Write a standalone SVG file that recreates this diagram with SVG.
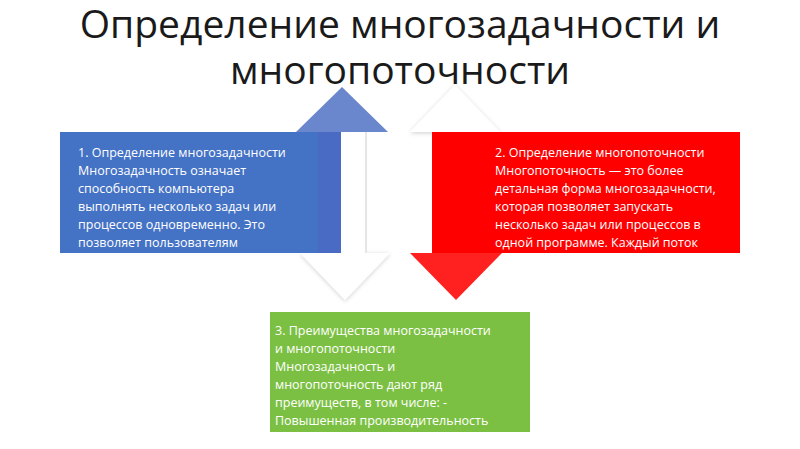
<svg xmlns="http://www.w3.org/2000/svg" width="800" height="449" viewBox="0 0 800 449">
<defs>
<style>
.t{font-family:"Open Sans","Noto Sans",sans-serif;font-size:12.5px;fill:#fff}
.h{font-family:"Open Sans","Noto Sans",sans-serif;font-size:39px;fill:#1a1a1a;text-anchor:middle}
</style>
<filter id="sh" x="-20%" y="-20%" width="140%" height="140%"><feDropShadow dx="0" dy="1" stdDeviation="2" flood-color="#000" flood-opacity="0.2"/></filter>
</defs>
<rect width="800" height="449" fill="#fff"/>
<text class="h" x="400" y="38">Определение многозадачности и</text>
<text class="h" x="400" y="84">многопоточности</text>
<g id="connectors">
<polygon points="300,253 390,253 345,300" fill="#fff" filter="url(#sh)"/>
<polygon points="410,132 500,132 455,85" fill="#fff" filter="url(#sh)"/>
<polygon points="296,132 388,132 342,87" fill="#6a86cc"/>
<rect x="317" y="132" width="50" height="121" fill="#fff"/>
<line x1="366" y1="132" x2="366" y2="253" stroke="#ccc"/>
<rect x="317" y="132" width="24" height="121" fill="#4a6bc4"/>
<polygon points="410,253 502,253 456,300" fill="#ff2020"/>
<rect x="432" y="132" width="48" height="121" fill="#ff0000"/>
</g>
<g id="n1">
<rect x="60" y="132" width="258" height="121" fill="#4472c4"/>
<text class="t"><tspan x="78" y="157">1. Определение многозадачности</tspan><tspan x="78" y="175">Многозадачность означает</tspan><tspan x="78" y="193">способность компьютера</tspan><tspan x="78" y="211">выполнять несколько задач или</tspan><tspan x="78" y="229">процессов одновременно. Это</tspan><tspan x="78" y="247">позволяет пользователям</tspan></text>
</g>
<g id="n2">
<rect x="480" y="132" width="260" height="121" fill="#ff0000"/>
<text class="t"><tspan x="495" y="157">2. Определение многопоточности</tspan><tspan x="495" y="175">Многопоточность — это более</tspan><tspan x="495" y="193">детальная форма многозадачности,</tspan><tspan x="495" y="211">которая позволяет запускать</tspan><tspan x="495" y="229">несколько задач или процессов в</tspan><tspan x="495" y="247">одной программе. Каждый поток</tspan></text>
</g>
<g id="n3">
<rect x="270" y="312" width="260" height="120" fill="#7cc043"/>
<text class="t"><tspan x="275" y="335">3. Преимущества многозадачности</tspan><tspan x="275" y="353">и многопоточности</tspan><tspan x="275" y="371">Многозадачность и</tspan><tspan x="275" y="389">многопоточность дают ряд</tspan><tspan x="275" y="407">преимуществ, в том числе: -</tspan><tspan x="275" y="425">Повышенная производительность</tspan></text>
</g>
</svg>
